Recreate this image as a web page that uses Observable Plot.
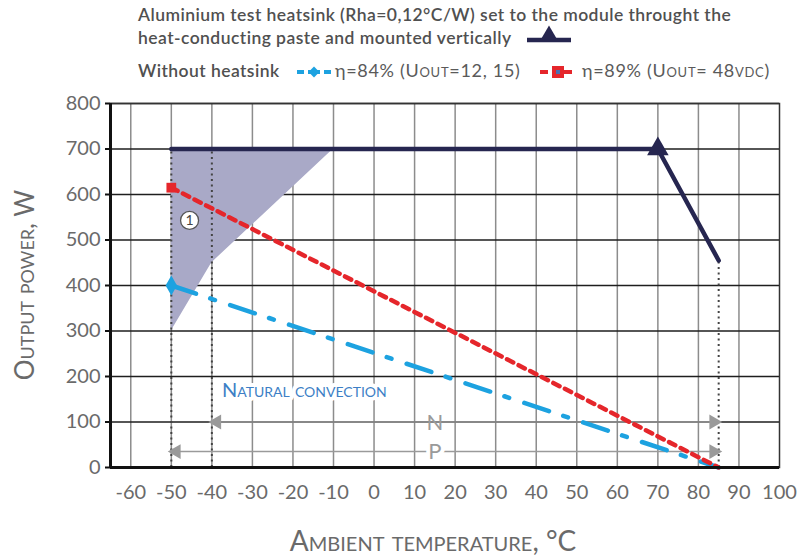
<!DOCTYPE html>
<html>
<head>
<meta charset="utf-8">
<script src="https://cdn.jsdelivr.net/npm/d3@7"></script>
<script src="https://cdn.jsdelivr.net/npm/@observablehq/plot@0.6"></script>
<style>
  html, body { margin: 0; padding: 0; background: white; }
  #wrap { position: relative; width: 800px; height: 559px; }
  #wrap svg.overlay { position: absolute; left: 0; top: 0; pointer-events: none; }
  .sc { font-variant: small-caps; }
</style>
</head>
<body>
<div id="wrap"></div>
<script>
// ---- data ----
const xTicks = [-60, -50, -40, -30, -20, -10, 0, 10, 20, 30, 40, 50, 60, 70, 80, 90, 100];
const xGrid = [-60, -50, -40, -30, -20, -10, 0, 10, 20, 30, 40, 50, 60, 70, 80, 90];
const yTicks = [0, 100, 200, 300, 400, 500, 600, 700, 800];

// heatsink curve
const heatT = [-50, 70, 85];
const heatP = [700, 700, 455];

// without heatsink, eta = 89 %
const redT = [-50, 85];
const redP = [615, 0];
// without heatsink, eta = 84 %
const blueT = [-50, 85];
const blueP = [400, 0];

// shaded zone (1)
const zoneT = [-50, -40, -10];
const zoneLow = [300, 450, 700];
const zoneHigh = [700, 700, 700];

// dotted verticals
const vT = [-50, -40, 85];
const vTop = [700, 700, 455];

// range arrows
const rangeNames = ["N", "P"];
const rangeFrom = [-40, -50];
const rangeTo = [85, 85];
const rangeP = [100, 35];
const rangeLabelT = [15, 15];

const heat = heatT.map((t, i) => ({t, p: heatP[i]}));
const red = redT.map((t, i) => ({t, p: redP[i]}));
const blue = blueT.map((t, i) => ({t, p: blueP[i]}));
const zone = zoneT.map((t, i) => ({t, lo: zoneLow[i], hi: zoneHigh[i]}));
const verticals = vT.map((t, i) => ({t, top: vTop[i]}));
const ranges = rangeNames.map((n, i) => ({n, a: rangeFrom[i], b: rangeTo[i], p: rangeP[i], lt: rangeLabelT[i]}));

const navy = "#262650";
const redC = "#e5262b";
const blueC = "#1da2e0";
const gray = "#9a9a9a";

const chart = Plot.plot({
  width: 800, height: 559,
  marginLeft: 110, marginRight: 21, marginTop: 103, marginBottom: 92,
  style: {fontFamily: "Lato, sans-serif", fontSize: "20px", color: "#6a6a6a", background: "white"},
  x: {domain: [-65, 100]},
  y: {domain: [0, 800]},
  marks: [
    Plot.gridX(xGrid, {stroke: "#8c8c8c", strokeOpacity: 1, strokeWidth: 1.5}),
    Plot.gridY(yTicks, {stroke: "#1e1e1e", strokeOpacity: 1, strokeWidth: 1.5}),
    Plot.frame({stroke: "#333", strokeWidth: 1.5}),
    Plot.areaY(zone, {x: "t", y1: "lo", y2: "hi", fill: "#a9a9c7", fillOpacity: 1}),
    Plot.ruleX(verticals, {x: "t", y1: 0, y2: "top", stroke: "#444", strokeWidth: 2, strokeDasharray: "2,3.5"}),
    // range arrows
    Plot.link(ranges, {x1: "a", x2: "b", y1: "p", y2: "p", stroke: gray, strokeWidth: 1.5}),
    Plot.dot(ranges, {x: "a", y: "p", symbol: "triangle", rotate: -90, r: 5.5, fill: gray, stroke: null, dx: 5}),
    Plot.dot(ranges, {x: "b", y: "p", symbol: "triangle", rotate: 90, r: 5.5, fill: gray, stroke: null, dx: -5}),
    Plot.text(ranges.filter(d => d.n === "P"), {x: "lt", y: "p", text: "n", fill: gray, fontSize: 22, stroke: "white", strokeWidth: 8, fontFamily: "Lato"}),
    Plot.text(ranges.filter(d => d.n === "N"), {x: "lt", y: "p", text: "n", fill: gray, fontSize: 22, dy: 1, fontFamily: "Lato"}),
    Plot.text(["Natural convection"], {x: -37.5, y: 170, text: d => d, textAnchor: "start", fill: "#3d7fc6", fontSize: 20, fontVariant: "small-caps", stroke: "white", strokeWidth: 8, fontFamily: "Lato"}),
    // curves
    Plot.line(blue, {x: "t", y: "p", stroke: blueC, strokeWidth: 4.5, strokeDasharray: "26,15,5,16"}),
    Plot.line(red, {x: "t", y: "p", stroke: redC, strokeWidth: 4.5, strokeDasharray: "7,6"}),
    Plot.line(heat, {x: "t", y: "p", stroke: navy, strokeWidth: 4.5}),
    Plot.dot(heat.filter((d, i) => i === 1), {x: "t", y: "p", symbol: "triangle", r: 8, fill: navy, stroke: null}),
    Plot.dot(red.slice(0, 1), {x: "t", y: "p", symbol: "square", r: 5.5, fill: redC, stroke: null}),
    Plot.dot(blue.slice(0, 1), {x: "t", y: "p", symbol: "diamond", r: 6, fill: blueC, stroke: null}),
    // circled 1
    Plot.dot([{t: -45.5, p: 543}], {x: "t", y: "p", r: 9, fill: "white", stroke: "#555", strokeWidth: 1.3}),
    Plot.text([{t: -45.5, p: 543, s: "1"}], {x: "t", y: "p", text: "s", fontSize: 14, fill: "#444", fontFamily: "Lato"}),
    // axes
    Plot.axisX(xTicks, {tickSize: 0, tickPadding: 17, tickFormat: d => String(d), fill: "#6a6a6a", fontSize: 20, label: null}),
    Plot.axisY(yTicks, {tickSize: 5, tickPadding: 5, stroke: "#111", strokeWidth: 2, fill: "#6a6a6a", fontSize: 20, label: null}),
    Plot.ruleX([-65], {stroke: "#111", strokeWidth: 3}),
    Plot.ruleY([0], {stroke: "#111", strokeWidth: 3})
  ]
});
document.getElementById("wrap").appendChild(chart);

// ---- legend & axis titles overlay ----
const ov = d3.select("#wrap").append("svg").attr("class", "overlay")
  .attr("width", 800).attr("height", 559);
const lg = ov.append("g").attr("font-family", "Lato, sans-serif").attr("fill", "#505050");
const head = lg.append("g").attr("font-size", 17.5).attr("font-weight", 600).attr("letter-spacing", 0.45);
head.append("text").attr("x", 138).attr("y", 21)
  .text("Aluminium test heatsink (Rha=0,12°C/W) set to the module throught the");
head.append("text").attr("x", 138).attr("y", 44)
  .text("heat-conducting paste and mounted vertically");
head.append("text").attr("x", 138).attr("y", 77).text("Without heatsink");

lg.append("line").attr("x1", 527).attr("x2", 571).attr("y1", 40).attr("y2", 40).attr("stroke", navy).attr("stroke-width", 4.5);
lg.append("path").attr("d", d3.symbol(d3.symbolTriangle, 120)()).attr("transform", "translate(549,35)").attr("fill", navy);

const eta = lg.append("g").attr("font-size", 18).attr("letter-spacing", 0.7).attr("fill", "#5a5a5a");
lg.append("line").attr("x1", 297).attr("x2", 331).attr("y1", 72).attr("y2", 72).attr("stroke", blueC).attr("stroke-width", 4).attr("stroke-dasharray", "7,4,12,4,7");
lg.append("path").attr("d", d3.symbol(d3.symbolDiamond2, 75)()).attr("transform", "translate(314,72)").attr("fill", blueC);
const t1 = eta.append("text").attr("x", 335).attr("y", 77);
t1.append("tspan").text("η=84% (U");
t1.append("tspan").attr("class", "sc").text("out");
t1.append("tspan").text("=12, 15)");
lg.append("line").attr("x1", 540).attr("x2", 576).attr("y1", 72).attr("y2", 72).attr("stroke", redC).attr("stroke-width", 4).attr("stroke-dasharray", "8,4");
lg.append("rect").attr("x", 552).attr("y", 66).attr("width", 12).attr("height", 12).attr("fill", redC);
lg.append("rect").attr("x", 556).attr("y", 70).attr("width", 4).attr("height", 4).attr("fill", "#4a6fb0");
const t2 = eta.append("text").attr("x", 582).attr("y", 77);
t2.append("tspan").text("η=89% (U");
t2.append("tspan").attr("class", "sc").text("out");
t2.append("tspan").text("= 48");
t2.append("tspan").attr("class", "sc").text("vdc");
t2.append("tspan").text(")");

// axis titles
ov.append("text").attr("x", 433).attr("y", 551).attr("text-anchor", "middle")
  .attr("font-family", "Lato, sans-serif").attr("font-size", 28).attr("fill", "#6a6a6a")
  .attr("class", "sc").text("Ambient temperature, °C");
ov.append("text").attr("transform", "translate(34,285) rotate(-90)").attr("text-anchor", "middle")
  .attr("font-family", "Lato, sans-serif").attr("font-size", 26).attr("fill", "#6a6a6a")
  .attr("class", "sc").text("Output power, W");
</script>
</body>
</html>
